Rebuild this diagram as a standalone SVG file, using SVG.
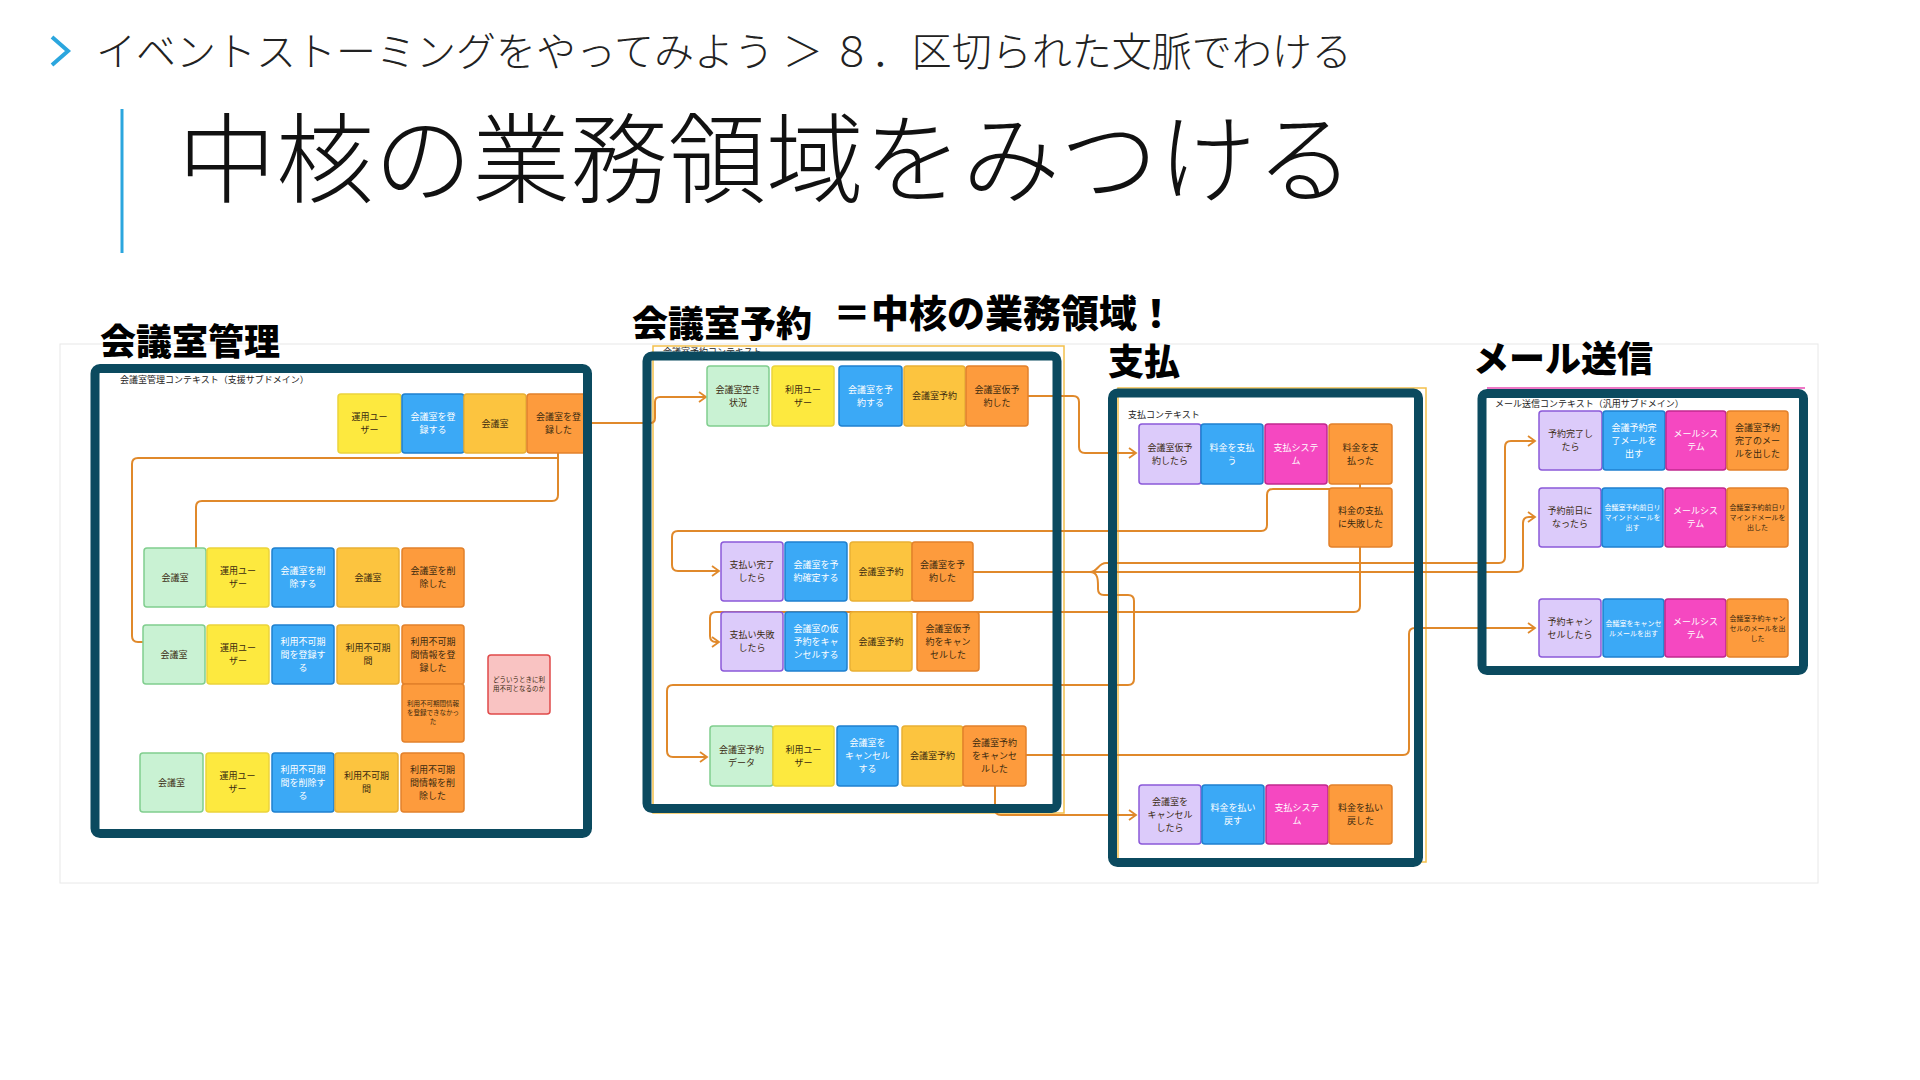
<svg xmlns="http://www.w3.org/2000/svg" width="1920" height="1080" viewBox="0 0 1920 1080">
<defs>
<style>
text{font-family:"Noto Sans CJK JP","Noto Sans",sans-serif}
.hd{font-size:40px;fill:#222;font-weight:300}
.tt{font-size:98px;fill:#111;font-weight:300}
.lb{font-size:36px;fill:#000;font-weight:900}
.ct{font-size:9px;fill:#222}
.n rect{stroke-width:1.5}
.n text{font-size:9px;fill:#3a2a10;text-anchor:middle}
.n text.s{font-size:6.5px}
.n text.m{font-size:7px}
.n text.w{fill:#fff}
.g{fill:#C9F2D3;stroke:#80CE8E}
.y{fill:#FDE93F;stroke:#EBD43B}
.b{fill:#3BA9F6;stroke:#1F80CF}
.a{fill:#FCC43F;stroke:#E9B034}
.o{fill:#FD9B3D;stroke:#E2812B}
.p{fill:#DCCBFA;stroke:#8B59D9}
.k{fill:#F548C1;stroke:#C1288F}
.r{fill:#F9C3C2;stroke:#E04A4A}
.ln{fill:none;stroke:#E0892B;stroke-width:2}
.bx{fill:none;stroke:#0B4A5F;stroke-width:9}
</style>
<marker id="ar" markerUnits="userSpaceOnUse" markerWidth="10" markerHeight="12" refX="8" refY="6" orient="auto">
<path d="M1,1 L8,6 L1,11" fill="none" stroke="#E0892B" stroke-width="1.8"/>
</marker>
</defs>
<rect width="1920" height="1080" fill="#fff"/>
<!-- header -->
<polyline points="52,37 68,51 52,65" fill="none" stroke="#2BA6DE" stroke-width="4"/>
<text class="hd" x="96" y="66">イベントストーミングをやってみよう ＞ ８．区切られた文脈でわける</text>
<line x1="122" y1="109" x2="122" y2="253" stroke="#2BA6DE" stroke-width="3"/>
<text class="tt" x="178" y="195">中核の業務領域をみつける</text>
<!-- canvas -->
<rect x="60" y="344" width="1758" height="539" fill="#fff" stroke="#E8E8E8" stroke-width="1"/>
<rect x="653" y="346" width="411" height="467" fill="none" stroke="#F3C04B" stroke-width="1.5"/>
<rect x="1118" y="388" width="308" height="474" fill="none" stroke="#F3C04B" stroke-width="1.5"/>
<line x1="1487" y1="388" x2="1805" y2="388" stroke="#E84BB5" stroke-width="1.5"/>
<text class="ct" x="663" y="355">会議室予約コンテキスト</text>
<!-- connectors -->
<g id="connectors">
<path class="ln" d="M558 453 V458 H138 Q132 458 132 464 V636 Q132 642 138 642 H143"/>
<path class="ln" d="M558 453 V495 Q558 501 552 501 H202 Q196 501 196 507 V548"/>
<path class="ln" d="M589 423 H650 Q655 423 655 418 V402 Q655 397 660 397 H706" marker-end="url(#ar)"/>
<path class="ln" d="M1028 396 H1073 Q1079 396 1079 402 V447 Q1079 453 1085 453 H1136" marker-end="url(#ar)"/>
<path class="ln" d="M1360 484 V489 H1273 Q1267 489 1267 495 V525 Q1267 531 1261 531 H678 Q672 531 672 537 V565 Q672 571 678 571 H719" marker-end="url(#ar)"/>
<path class="ln" d="M1360 547 V606 Q1360 612 1354 612 H716 Q710 612 710 618 V636 Q710 642 716 642 H719" marker-end="url(#ar)"/>
<path class="ln" d="M973 572 H1517 Q1523 572 1523 566 V523 Q1523 517 1529 517 H1535" marker-end="url(#ar)"/>
<path class="ln" d="M1090 572 C1098 572 1098 563 1106 563 H1499 Q1505 563 1505 557 V447 Q1505 441 1511 441 H1535" marker-end="url(#ar)"/>
<path class="ln" d="M1090 572 C1098 572 1098 580 1098 586 V589 Q1098 595 1104 595 H1128 Q1134 595 1134 601 V679 Q1134 685 1128 685 H673 Q667 685 667 691 V751 Q667 757 673 757 H707" marker-end="url(#ar)"/>
<path class="ln" d="M1026 755 H1403 Q1409 755 1409 749 V634 Q1409 628 1415 628 H1535" marker-end="url(#ar)"/>
<path class="ln" d="M995 786 V809 Q995 815 1001 815 H1136" marker-end="url(#ar)"/>
</g>
<!-- 会議室管理 notes -->
<g id="n-kanri-r1-actor" class="n"><rect class="y" x="338" y="394" width="63" height="59" rx="3"/><text x="369.5" y="420.2">運用ユー<tspan x="369.5" dy="13">ザー</tspan></text></g>
<g id="n-kanri-r1-cmd" class="n"><rect class="b" x="402" y="394" width="62" height="59" rx="3"/><text class="w" x="433" y="420.2">会議室を登<tspan x="433" dy="13">録する</tspan></text></g>
<g id="n-kanri-r1-agg" class="n"><rect class="a" x="464" y="394" width="62" height="59" rx="3"/><text x="495" y="426.7">会議室</text></g>
<g id="n-kanri-r1-evt" class="n"><rect class="o" x="527" y="394" width="63" height="59" rx="3"/><text x="558.5" y="420.2">会議室を登<tspan x="558.5" dy="13">録した</tspan></text></g>

<g id="n-kanri-r2-rm" class="n"><rect class="g" x="144" y="548" width="62" height="59" rx="3"/><text x="175" y="580.7">会議室</text></g>
<g id="n-kanri-r2-actor" class="n"><rect class="y" x="207" y="548" width="62" height="59" rx="3"/><text x="238" y="574.2">運用ユー<tspan x="238" dy="13">ザー</tspan></text></g>
<g id="n-kanri-r2-cmd" class="n"><rect class="b" x="272" y="548" width="62" height="59" rx="3"/><text class="w" x="303" y="574.2">会議室を削<tspan x="303" dy="13">除する</tspan></text></g>
<g id="n-kanri-r2-agg" class="n"><rect class="a" x="337" y="548" width="62" height="59" rx="3"/><text x="368" y="580.7">会議室</text></g>
<g id="n-kanri-r2-evt" class="n"><rect class="o" x="402" y="548" width="62" height="59" rx="3"/><text x="433" y="574.2">会議室を削<tspan x="433" dy="13">除した</tspan></text></g>

<g id="n-kanri-r3-rm" class="n"><rect class="g" x="143" y="625" width="62" height="59" rx="3"/><text x="174" y="657.7">会議室</text></g>
<g id="n-kanri-r3-actor" class="n"><rect class="y" x="207" y="625" width="62" height="59" rx="3"/><text x="238" y="651.2">運用ユー<tspan x="238" dy="13">ザー</tspan></text></g>
<g id="n-kanri-r3-cmd" class="n"><rect class="b" x="272" y="625" width="62" height="59" rx="3"/><text class="w" x="303" y="644.7">利用不可期<tspan x="303" dy="13">間を登録す</tspan><tspan x="303" dy="13">る</tspan></text></g>
<g id="n-kanri-r3-agg" class="n"><rect class="a" x="337" y="625" width="62" height="59" rx="3"/><text x="368" y="651.2">利用不可期<tspan x="368" dy="13">間</tspan></text></g>
<g id="n-kanri-r3-evt" class="n"><rect class="o" x="402" y="625" width="62" height="59" rx="3"/><text x="433" y="644.7">利用不可期<tspan x="433" dy="13">間情報を登</tspan><tspan x="433" dy="13">録した</tspan></text></g>
<g id="n-kanri-r3-fail" class="n"><rect class="o" x="402" y="684" width="62" height="58" rx="3"/><text class="s" x="433" y="706.3">利用不可期間情報<tspan x="433" dy="9">を登録できなかっ</tspan><tspan x="433" dy="9">た</tspan></text></g>
<g id="n-kanri-question" class="n"><rect class="r" x="488" y="655" width="62" height="59" rx="3"/><text class="s" x="519" y="682.3">どういうときに利<tspan x="519" dy="9">用不可となるのか</tspan></text></g>

<g id="n-kanri-r4-rm" class="n"><rect class="g" x="140" y="753" width="63" height="59" rx="3"/><text x="171.5" y="785.7">会議室</text></g>
<g id="n-kanri-r4-actor" class="n"><rect class="y" x="206" y="753" width="63" height="59" rx="3"/><text x="237.5" y="779.2">運用ユー<tspan x="237.5" dy="13">ザー</tspan></text></g>
<g id="n-kanri-r4-cmd" class="n"><rect class="b" x="272" y="753" width="62" height="59" rx="3"/><text class="w" x="303" y="772.7">利用不可期<tspan x="303" dy="13">間を削除す</tspan><tspan x="303" dy="13">る</tspan></text></g>
<g id="n-kanri-r4-agg" class="n"><rect class="a" x="335" y="753" width="63" height="59" rx="3"/><text x="366.5" y="779.2">利用不可期<tspan x="366.5" dy="13">間</tspan></text></g>
<g id="n-kanri-r4-evt" class="n"><rect class="o" x="401" y="753" width="63" height="59" rx="3"/><text x="432.5" y="772.7">利用不可期<tspan x="432.5" dy="13">間情報を削</tspan><tspan x="432.5" dy="13">除した</tspan></text></g>

<!-- 会議室予約 notes -->
<g id="n-yoyaku-r1-read" class="n"><rect class="g" x="707" y="366" width="62" height="60" rx="3"/><text x="738" y="392.7">会議室空き<tspan x="738" dy="13">状況</tspan></text></g>
<g id="n-yoyaku-r1-actor" class="n"><rect class="y" x="772" y="366" width="62" height="60" rx="3"/><text x="803" y="392.7">利用ユー<tspan x="803" dy="13">ザー</tspan></text></g>
<g id="n-yoyaku-r1-cmd" class="n"><rect class="b" x="839" y="366" width="63" height="60" rx="3"/><text class="w" x="870.5" y="392.7">会議室を予<tspan x="870.5" dy="13">約する</tspan></text></g>
<g id="n-yoyaku-r1-agg" class="n"><rect class="a" x="904" y="366" width="61" height="60" rx="3"/><text x="934.5" y="399.2">会議室予約</text></g>
<g id="n-yoyaku-r1-evt" class="n"><rect class="o" x="966" y="366" width="62" height="60" rx="3"/><text x="997" y="392.7">会議室仮予<tspan x="997" dy="13">約した</tspan></text></g>

<g id="n-yoyaku-r2-policy" class="n"><rect class="p" x="721" y="542" width="62" height="59" rx="3"/><text x="752" y="568.2">支払い完了<tspan x="752" dy="13">したら</tspan></text></g>
<g id="n-yoyaku-r2-cmd" class="n"><rect class="b" x="785" y="542" width="62" height="59" rx="3"/><text class="w" x="816" y="568.2">会議室を予<tspan x="816" dy="13">約確定する</tspan></text></g>
<g id="n-yoyaku-r2-agg" class="n"><rect class="a" x="850" y="542" width="62" height="59" rx="3"/><text x="881" y="574.7">会議室予約</text></g>
<g id="n-yoyaku-r2-evt" class="n"><rect class="o" x="912" y="542" width="61" height="59" rx="3"/><text x="942.5" y="568.2">会議室を予<tspan x="942.5" dy="13">約した</tspan></text></g>

<g id="n-yoyaku-r3-policy" class="n"><rect class="p" x="721" y="612" width="62" height="59" rx="3"/><text x="752" y="638.2">支払い失敗<tspan x="752" dy="13">したら</tspan></text></g>
<g id="n-yoyaku-r3-cmd" class="n"><rect class="b" x="785" y="612" width="62" height="59" rx="3"/><text class="w" x="816" y="631.7">会議室の仮<tspan x="816" dy="13">予約をキャ</tspan><tspan x="816" dy="13">ンセルする</tspan></text></g>
<g id="n-yoyaku-r3-agg" class="n"><rect class="a" x="850" y="612" width="62" height="59" rx="3"/><text x="881" y="644.7">会議室予約</text></g>
<g id="n-yoyaku-r3-evt" class="n"><rect class="o" x="917" y="612" width="62" height="59" rx="3"/><text x="948" y="631.7">会議室仮予<tspan x="948" dy="13">約をキャン</tspan><tspan x="948" dy="13">セルした</tspan></text></g>

<g id="n-yoyaku-r4-read" class="n"><rect class="g" x="710" y="726" width="63" height="60" rx="3"/><text x="741.5" y="752.7">会議室予約<tspan x="741.5" dy="13">データ</tspan></text></g>
<g id="n-yoyaku-r4-actor" class="n"><rect class="y" x="773" y="726" width="61" height="60" rx="3"/><text x="803.5" y="752.7">利用ユー<tspan x="803.5" dy="13">ザー</tspan></text></g>
<g id="n-yoyaku-r4-cmd" class="n"><rect class="b" x="837" y="726" width="61" height="60" rx="3"/><text class="w" x="867.5" y="746.2">会議室を<tspan x="867.5" dy="13">キャンセル</tspan><tspan x="867.5" dy="13">する</tspan></text></g>
<g id="n-yoyaku-r4-agg" class="n"><rect class="a" x="902" y="726" width="61" height="60" rx="3"/><text x="932.5" y="759.2">会議室予約</text></g>
<g id="n-yoyaku-r4-evt" class="n"><rect class="o" x="963" y="726" width="63" height="60" rx="3"/><text x="994.5" y="746.2">会議室予約<tspan x="994.5" dy="13">をキャンセ</tspan><tspan x="994.5" dy="13">ルした</tspan></text></g>

<!-- 支払 notes -->
<g id="n-shiharai-r1-policy" class="n"><rect class="p" x="1139" y="424" width="62" height="60" rx="3"/><text x="1170" y="450.7">会議室仮予<tspan x="1170" dy="13">約したら</tspan></text></g>
<g id="n-shiharai-r1-cmd" class="n"><rect class="b" x="1201" y="424" width="62" height="60" rx="3"/><text class="w" x="1232" y="450.7">料金を支払<tspan x="1232" dy="13">う</tspan></text></g>
<g id="n-shiharai-r1-sys" class="n"><rect class="k" x="1265" y="424" width="62" height="60" rx="3"/><text class="w" x="1296" y="450.7">支払システ<tspan x="1296" dy="13">ム</tspan></text></g>
<g id="n-shiharai-r1-evt" class="n"><rect class="o" x="1329" y="424" width="63" height="60" rx="3"/><text x="1360.5" y="450.7">料金を支<tspan x="1360.5" dy="13">払った</tspan></text></g>
<g id="n-shiharai-r1-fail" class="n"><rect class="o" x="1329" y="488" width="63" height="59" rx="3"/><text x="1360.5" y="514.2">料金の支払<tspan x="1360.5" dy="13">に失敗した</tspan></text></g>

<g id="n-shiharai-r2-policy" class="n"><rect class="p" x="1139" y="785" width="62" height="59" rx="3"/><text x="1170" y="804.7">会議室を<tspan x="1170" dy="13">キャンセル</tspan><tspan x="1170" dy="13">したら</tspan></text></g>
<g id="n-shiharai-r2-cmd" class="n"><rect class="b" x="1202" y="785" width="62" height="59" rx="3"/><text class="w" x="1233" y="811.2">料金を払い<tspan x="1233" dy="13">戻す</tspan></text></g>
<g id="n-shiharai-r2-sys" class="n"><rect class="k" x="1266" y="785" width="62" height="59" rx="3"/><text class="w" x="1297" y="811.2">支払システ<tspan x="1297" dy="13">ム</tspan></text></g>
<g id="n-shiharai-r2-evt" class="n"><rect class="o" x="1329" y="785" width="63" height="59" rx="3"/><text x="1360.5" y="811.2">料金を払い<tspan x="1360.5" dy="13">戻した</tspan></text></g>

<!-- メール送信 notes -->
<g id="n-mail-r1-policy" class="n"><rect class="p" x="1539" y="411" width="63" height="59" rx="3"/><text x="1570.5" y="437.2">予約完了し<tspan x="1570.5" dy="13">たら</tspan></text></g>
<g id="n-mail-r1-cmd" class="n"><rect class="b" x="1603" y="411" width="62" height="59" rx="3"/><text class="w" x="1634" y="430.7">会議予約完<tspan x="1634" dy="13">了メールを</tspan><tspan x="1634" dy="13">出す</tspan></text></g>
<g id="n-mail-r1-sys" class="n"><rect class="k" x="1666" y="411" width="60" height="59" rx="3"/><text class="w" x="1696" y="437.2">メールシス<tspan x="1696" dy="13">テム</tspan></text></g>
<g id="n-mail-r1-evt" class="n"><rect class="o" x="1727" y="411" width="61" height="59" rx="3"/><text x="1757.5" y="430.7">会議室予約<tspan x="1757.5" dy="13">完了のメー</tspan><tspan x="1757.5" dy="13">ルを出した</tspan></text></g>

<g id="n-mail-r2-policy" class="n"><rect class="p" x="1539" y="488" width="62" height="59" rx="3"/><text x="1570" y="514.2">予約前日に<tspan x="1570" dy="13">なったら</tspan></text></g>
<g id="n-mail-r2-cmd" class="n"><rect class="b" x="1602" y="488" width="61" height="59" rx="3"/><text class="w m" x="1632.5" y="510">会議室予約前日リ<tspan x="1632.5" dy="10">マインドメールを</tspan><tspan x="1632.5" dy="10">出す</tspan></text></g>
<g id="n-mail-r2-sys" class="n"><rect class="k" x="1665" y="488" width="61" height="59" rx="3"/><text class="w" x="1695.5" y="514.2">メールシス<tspan x="1695.5" dy="13">テム</tspan></text></g>
<g id="n-mail-r2-evt" class="n"><rect class="o" x="1727" y="488" width="61" height="59" rx="3"/><text class="m" x="1757.5" y="510">会議室予約前日リ<tspan x="1757.5" dy="10">マインドメールを</tspan><tspan x="1757.5" dy="10">出した</tspan></text></g>

<g id="n-mail-r3-policy" class="n"><rect class="p" x="1539" y="599" width="62" height="58" rx="3"/><text x="1570" y="624.7">予約キャン<tspan x="1570" dy="13">セルしたら</tspan></text></g>
<g id="n-mail-r3-cmd" class="n"><rect class="b" x="1603" y="599" width="61" height="58" rx="3"/><text class="w m" x="1633.5" y="625.5">会議室をキャンセ<tspan x="1633.5" dy="10">ルメールを出す</tspan></text></g>
<g id="n-mail-r3-sys" class="n"><rect class="k" x="1665" y="599" width="61" height="58" rx="3"/><text class="w" x="1695.5" y="624.7">メールシス<tspan x="1695.5" dy="13">テム</tspan></text></g>
<g id="n-mail-r3-evt" class="n"><rect class="o" x="1727" y="599" width="61" height="58" rx="3"/><text class="m" x="1757.5" y="620.5">会議室予約キャン<tspan x="1757.5" dy="10">セルのメールを出</tspan><tspan x="1757.5" dy="10">した</tspan></text></g>

<!-- context boxes -->
<g id="ctx-kanri"><rect class="bx" x="95" y="368.5" width="492.5" height="465" rx="5"/><text class="ct" x="120" y="383">会議室管理コンテキスト（支援サブドメイン）</text></g>
<g id="ctx-yoyaku"><rect class="bx" x="647" y="356" width="410" height="452.5" rx="5"/></g>
<g id="ctx-shiharai"><rect class="bx" x="1112.5" y="393" width="306" height="469.5" rx="5"/><text class="ct" x="1128" y="418">支払コンテキスト</text></g>
<g id="ctx-mail"><rect class="bx" x="1482" y="393.5" width="321.5" height="277" rx="5"/><text class="ct" x="1495" y="407">メール送信コンテキスト（汎用サブドメイン）</text></g>

<!-- labels -->
<text class="lb" x="100" y="355">会議室管理</text>
<text class="lb" x="632" y="337">会議室予約</text>
<text class="lb" x="833" y="327" style="font-size:38px">＝中核の業務領域！</text>
<text class="lb" x="1108" y="375">支払</text>
<text class="lb" x="1473" y="372">メール送信</text>
</svg>
